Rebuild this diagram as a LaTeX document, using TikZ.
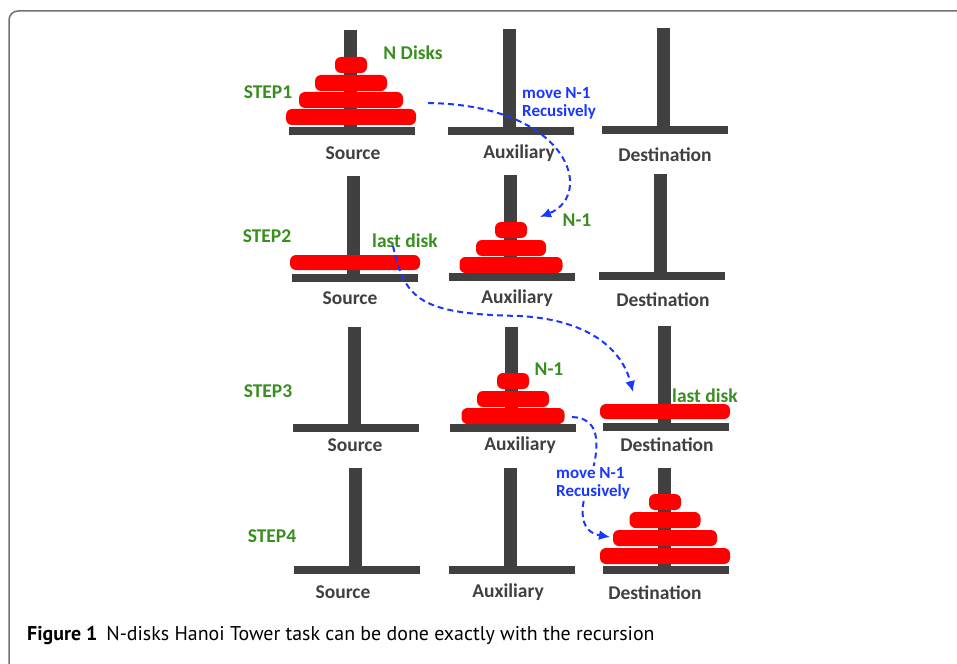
\documentclass[tikz,border=0pt]{standalone}
\usepackage{fontspec}
\setmainfont{Carlito}
\newfontfamily\didafont{PT Sans}
\usetikzlibrary{arrows.meta}
\definecolor{grigio}{RGB}{64,64,64}
\definecolor{verde}{RGB}{56,142,30}
\definecolor{blu}{RGB}{25,55,255}
\definecolor{cornice}{RGB}{112,112,112}

\begin{document}
\begin{tikzpicture}[x=1pt, y=-1pt, >={Latex[length=11pt,width=10pt]},
  palo/.style={fill=grigio},
  disco/.style={fill=red, rounded corners=6pt},
  etichetta/.style={text=grigio, font=\fontsize{19.5}{20}\selectfont\bfseries, inner sep=0pt},
  passo/.style={text=verde, font=\fontsize{19.5}{20}\selectfont\bfseries, inner sep=0pt},
  nota/.style={text=blu, font=\fontsize{17}{18}\selectfont\bfseries, align=left, inner sep=0pt},
  freccia/.style={->, blu, line width=2pt, dash pattern=on 6pt off 4pt}]

% cornice
\clip (0,0) rectangle (957,663);
\draw[cornice, line width=1.5pt, rounded corners=9pt] (9,11) rectangle (990,700);

% pioli e basi
\foreach \cx/\ya/\yb in {350/30/127, 509/29/127, 663/28/126,
                         353/176/274, 510/175/273, 660/174/272,
                         354/327/424, 511/327/424, 664/326/423,
                         355/468/566, 510/468/566, 664/468/566}{
  \fill[palo] ({\cx-6.5},\ya) rectangle ({\cx+6.5},{\yb+8});
  \fill[palo] ({\cx-61},\yb) rectangle ({\cx+65},{\yb+8});
}

% dischi passo 1
\foreach \w/\yy in {32/57, 72/75, 104/92, 130/109}
  \fill[disco] ({351-\w/2},\yy) rectangle ({351+\w/2},{\yy+16});

% dischi passo 2
\fill[disco] (290,255) rectangle (420,270);
\foreach \w/\yy in {32/222, 70/240, 103/257}
  \fill[disco] ({511-\w/2},\yy) rectangle ({511+\w/2},{\yy+16});

% dischi passo 3
\foreach \w/\yy in {32/373, 72/391, 103/408}
  \fill[disco] ({513-\w/2},\yy) rectangle ({513+\w/2},{\yy+16});
\fill[disco] (600,404) rectangle (730,419);

% dischi passo 4
\foreach \w/\yy in {32/494, 71/512, 104/530, 130/548}
  \fill[disco] ({665-\w/2},\yy) rectangle ({665+\w/2},{\yy+16});

% nomi dei pioli
\foreach \n/\x/\yy/\txt in {s1/353/153/Source, a1/519/153/Auxiliary, d1/665/155/Destination,
                            s2/350/298/Source, a2/517/298/Auxiliary, d2/663/300/Destination,
                            s3/355/445/Source, a3/520/445/Auxiliary, d3/667/445/Destination,
                            s4/343/592/Source, a4/508/592/Auxiliary, d4/655/593/Destination}
  \node[etichetta] (\n) at (\x,\yy) {\txt};

% passi
\node[passo] (passo1) at (268,92) {STEP1};
\node[passo] (passo2) at (267,236) {STEP2};
\node[passo] (passo3) at (268,391) {STEP3};
\node[passo] (passo4) at (272,536) {STEP4};

% scritte verdi
\node[passo] (ndischi) at (413,53) {N Disks};
\node[passo] (nmeno2) at (577,220) {N-1};
\node[passo] (nmeno3) at (549,369) {N-1};
\node[passo] (ultimo2) at (405,241) {last disk};
\node[passo, anchor=west] (ultimo3) at (672,396) {last disk};

% frecce
\coordinate (p1) at (428,103);
\coordinate (q1) at (540,217);
\coordinate (p2) at (393,246);
\coordinate (q2) at (633,392);
\coordinate (p3) at (572,417);
\coordinate (q3) at (610,537);

\draw[freccia] (p1) .. controls (570,105) and (595,195) .. (q1);
\draw[freccia] (p2) .. controls (405,300) and (420,314) .. (520,316)
  .. controls (590,320) and (622,350) .. (q2);
\draw[freccia] (p3) .. controls (598,418) and (602,440) .. (590,480)
  .. controls (578,510) and (580,532) .. (q3);

% scritte blu
\node[nota, anchor=west] (mossa1) at (522,103) {move N-1\\Recusively};
\node[nota, anchor=west, fill=white, inner sep=1pt] (mossa4) at (555,483) {move N-1\\Recusively};

% didascalia
\node[anchor=base west, inner sep=0pt, font=\didafont\fontsize{19.9}{20}\selectfont] (didascalia) at (27,640)
  {\textbf{Figure 1}\hspace{0.45em}N-disks Hanoi Tower task can be done exactly with the recursion};

\end{tikzpicture}
\end{document}
